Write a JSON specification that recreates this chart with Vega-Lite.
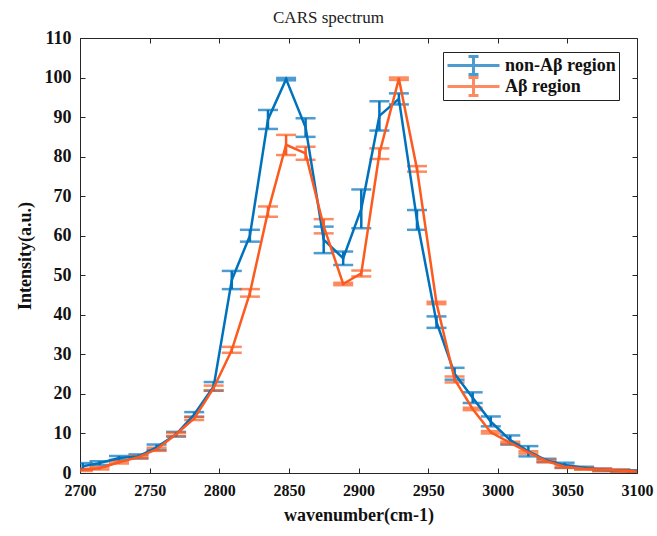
{
  "$schema": "https://vega.github.io/schema/vega-lite/v6.json",
  "width": 557,
  "height": 435,
  "autosize": {"type": "none"},
  "padding": {"left": 80, "top": 38, "right": 20, "bottom": 63},
  "background": "white",
  "title": {"text": "CARS spectrum", "font": "Liberation Serif", "fontSize": 17, "fontWeight": "normal", "color": "#222222", "offset": 2, "dx": -30},
  "config": {
    "view": {"stroke": null},
    "axis": {"grid": false, "domainColor": "#262626", "tickColor": "#262626", "domainWidth": 1, "tickWidth": 1, "labelFlush": false,
      "labelFont": "Liberation Serif", "labelFontWeight": "bold", "labelFontSize": 16, "labelColor": "#111111",
      "titleFont": "Liberation Serif", "titleFontWeight": "bold", "titleFontSize": 18, "titleColor": "#111111"},
    "legend": {"title": null, "orient": "none", "legendX": 363, "legendY": 14,
      "symbolType": "M-1,0L4.2,0M1.6,-0.9L1.6,0.9M1.1,-0.9L2.1,-0.9M1.1,0.9L2.1,0.9",
      "symbolSize": 400, "symbolStrokeWidth": 3, "symbolFillColor": "transparent",
      "labelFont": "Liberation Serif", "labelFontWeight": "bold", "labelFontSize": 18, "labelColor": "#111111",
      "strokeColor": "#222222", "fillColor": "white", "padding": 3, "rowPadding": -1, "clipHeight": 21, "labelOffset": 36}
  },
  "data": {"values": [
    {"x": 2702, "s": "non-Aβ region", "y": 1.7, "lo": 0.9, "hi": 2.5},
    {"x": 2714, "s": "non-Aβ region", "y": 2.5, "lo": 2.0, "hi": 3.0},
    {"x": 2728, "s": "non-Aβ region", "y": 3.8, "lo": 3.3, "hi": 4.3},
    {"x": 2742, "s": "non-Aβ region", "y": 4.2, "lo": 3.7, "hi": 4.7},
    {"x": 2755, "s": "non-Aβ region", "y": 6.5, "lo": 5.8, "hi": 7.2},
    {"x": 2769, "s": "non-Aβ region", "y": 9.8, "lo": 9.2, "hi": 10.4},
    {"x": 2782, "s": "non-Aβ region", "y": 14.8, "lo": 14.2, "hi": 15.4},
    {"x": 2796, "s": "non-Aβ region", "y": 21.9, "lo": 20.8, "hi": 23.0},
    {"x": 2809, "s": "non-Aβ region", "y": 48.8, "lo": 46.5, "hi": 51.1},
    {"x": 2822, "s": "non-Aβ region", "y": 60.0, "lo": 58.5, "hi": 61.5},
    {"x": 2835, "s": "non-Aβ region", "y": 89.4, "lo": 87.0, "hi": 91.8},
    {"x": 2848, "s": "non-Aβ region", "y": 99.6, "lo": 99.3, "hi": 99.9},
    {"x": 2862, "s": "non-Aβ region", "y": 87.4, "lo": 85.0, "hi": 89.7},
    {"x": 2875, "s": "non-Aβ region", "y": 59.0, "lo": 55.6, "hi": 62.3},
    {"x": 2889, "s": "non-Aβ region", "y": 54.3, "lo": 52.6, "hi": 56.0},
    {"x": 2902, "s": "non-Aβ region", "y": 66.8, "lo": 61.9, "hi": 71.7},
    {"x": 2915, "s": "non-Aβ region", "y": 90.3, "lo": 86.6, "hi": 94.0},
    {"x": 2929, "s": "non-Aβ region", "y": 94.6, "lo": 93.2, "hi": 96.0},
    {"x": 2942, "s": "non-Aβ region", "y": 64.0, "lo": 61.5, "hi": 66.5},
    {"x": 2956, "s": "non-Aβ region", "y": 38.2, "lo": 36.7, "hi": 39.6},
    {"x": 2969, "s": "non-Aβ region", "y": 25.1, "lo": 23.6, "hi": 26.6},
    {"x": 2982, "s": "non-Aβ region", "y": 19.0, "lo": 17.7, "hi": 20.4},
    {"x": 2995, "s": "non-Aβ region", "y": 13.0, "lo": 11.8, "hi": 14.3},
    {"x": 3009, "s": "non-Aβ region", "y": 8.3, "lo": 7.2, "hi": 9.5},
    {"x": 3022, "s": "non-Aβ region", "y": 5.5, "lo": 4.2, "hi": 6.8},
    {"x": 3035, "s": "non-Aβ region", "y": 3.2, "lo": 2.8, "hi": 3.6},
    {"x": 3048, "s": "non-Aβ region", "y": 2.0, "lo": 1.3, "hi": 2.6},
    {"x": 3062, "s": "non-Aβ region", "y": 1.3, "lo": 1.0, "hi": 1.6},
    {"x": 3075, "s": "non-Aβ region", "y": 0.8, "lo": 0.5, "hi": 1.1},
    {"x": 3088, "s": "non-Aβ region", "y": 0.6, "lo": 0.4, "hi": 0.8},
    {"x": 3100, "s": "non-Aβ region", "y": 0.5, "lo": 0.3, "hi": 0.7},
    {"x": 2702, "s": "Aβ region", "y": 0.8, "lo": 0.5, "hi": 1.1},
    {"x": 2714, "s": "Aβ region", "y": 1.2, "lo": 0.9, "hi": 1.5},
    {"x": 2728, "s": "Aβ region", "y": 2.7, "lo": 2.4, "hi": 3.0},
    {"x": 2742, "s": "Aβ region", "y": 4.0, "lo": 3.7, "hi": 4.3},
    {"x": 2755, "s": "Aβ region", "y": 6.0, "lo": 5.6, "hi": 6.4},
    {"x": 2769, "s": "Aβ region", "y": 9.8, "lo": 9.4, "hi": 10.2},
    {"x": 2782, "s": "Aβ region", "y": 13.8, "lo": 13.4, "hi": 14.2},
    {"x": 2796, "s": "Aβ region", "y": 21.5, "lo": 20.9, "hi": 22.1},
    {"x": 2809, "s": "Aβ region", "y": 31.1, "lo": 30.4, "hi": 31.9},
    {"x": 2822, "s": "Aβ region", "y": 45.5, "lo": 44.6, "hi": 46.5},
    {"x": 2835, "s": "Aβ region", "y": 66.1, "lo": 64.8, "hi": 67.4},
    {"x": 2848, "s": "Aβ region", "y": 83.0, "lo": 80.4, "hi": 85.5},
    {"x": 2862, "s": "Aβ region", "y": 80.8, "lo": 79.2, "hi": 82.5},
    {"x": 2875, "s": "Aβ region", "y": 62.4, "lo": 60.6, "hi": 64.2},
    {"x": 2889, "s": "Aβ region", "y": 47.8, "lo": 47.5, "hi": 48.1},
    {"x": 2902, "s": "Aβ region", "y": 50.5, "lo": 49.7, "hi": 51.2},
    {"x": 2915, "s": "Aβ region", "y": 80.8, "lo": 79.4, "hi": 82.1},
    {"x": 2929, "s": "Aβ region", "y": 99.7, "lo": 99.4, "hi": 100.0},
    {"x": 2942, "s": "Aβ region", "y": 76.9, "lo": 76.2, "hi": 77.6},
    {"x": 2956, "s": "Aβ region", "y": 43.0, "lo": 42.7, "hi": 43.3},
    {"x": 2969, "s": "Aβ region", "y": 23.7, "lo": 22.9, "hi": 24.4},
    {"x": 2982, "s": "Aβ region", "y": 16.2, "lo": 15.9, "hi": 16.5},
    {"x": 2995, "s": "Aβ region", "y": 10.3, "lo": 10.0, "hi": 10.6},
    {"x": 3009, "s": "Aβ region", "y": 7.6, "lo": 7.3, "hi": 7.9},
    {"x": 3022, "s": "Aβ region", "y": 5.2, "lo": 4.9, "hi": 5.5},
    {"x": 3035, "s": "Aβ region", "y": 3.0, "lo": 2.7, "hi": 3.3},
    {"x": 3048, "s": "Aβ region", "y": 1.6, "lo": 1.3, "hi": 1.9},
    {"x": 3062, "s": "Aβ region", "y": 1.1, "lo": 0.8, "hi": 1.4},
    {"x": 3075, "s": "Aβ region", "y": 0.8, "lo": 0.5, "hi": 1.1},
    {"x": 3088, "s": "Aβ region", "y": 0.6, "lo": 0.3, "hi": 0.9},
    {"x": 3100, "s": "Aβ region", "y": 0.4, "lo": 0.2, "hi": 0.6}
  ]},
  "layer": [
    {
      "mark": {"type": "errorbar", "ticks": {"size": 20, "thickness": 2.5}, "thickness": 2.5, "clip": true},
      "encoding": {
        "x": {"field": "x", "type": "quantitative", "scale": {"domain": [2700, 3100], "nice": false},
          "axis": {"orient": "top", "labels": false, "title": null, "values": [2700, 2750, 2800, 2850, 2900, 2950, 3000, 3050, 3100], "tickSize": -5}},
        "y": {"field": "lo", "type": "quantitative", "scale": {"domain": [0, 110], "nice": false},
          "axis": {"orient": "right", "labels": false, "title": null, "values": [0, 10, 20, 30, 40, 50, 60, 70, 80, 90, 100, 110], "tickSize": -5}},
        "y2": {"field": "hi"},
        "color": {"field": "s", "type": "nominal",
          "scale": {"domain": ["non-Aβ region", "Aβ region"], "range": ["#0072BD", "#FC5A1E"]}}
      }
    },
    {
      "mark": {"type": "line", "strokeWidth": 2.5, "clip": true},
      "encoding": {
        "x": {"field": "x", "type": "quantitative",
          "axis": {"orient": "bottom", "title": "wavenumber(cm-1)", "values": [2700, 2750, 2800, 2850, 2900, 2950, 3000, 3050, 3100], "tickSize": -5, "labelPadding": 14, "titlePadding": 8, "format": "d"}},
        "y": {"field": "y", "type": "quantitative",
          "axis": {"orient": "left", "title": "Intensity(a.u.)", "values": [0, 10, 20, 30, 40, 50, 60, 70, 80, 90, 100, 110], "tickSize": -5, "labelPadding": 14, "labelFontSize": 18, "titlePadding": 10}},
        "color": {"field": "s", "type": "nominal"}
      }
    }
  ],
  "resolve": {"axis": {"x": "independent", "y": "independent"}}
}
